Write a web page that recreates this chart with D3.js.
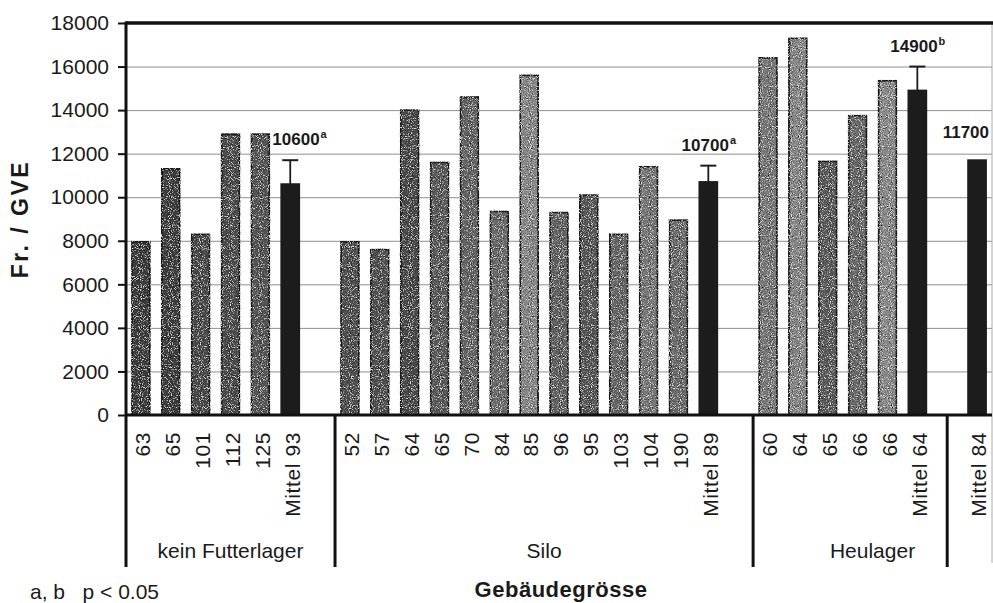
<!DOCTYPE html>
<html>
<head>
<meta charset="utf-8">
<script src="https://cdn.jsdelivr.net/npm/d3@7"></script>
<style>
  body { margin: 0; background: #fff; }
  #chart { width: 993px; height: 603px; }
  text { font-family: "Liberation Sans", Arial, sans-serif; fill: #1a1a1a; }
</style>
</head>
<body>
<div id="chart"></div>
<script>
// Fr. / GVE per farm
const groupNames = ["kein Futterlager", "Silo", "Heulager", ""];

const keinLabels = ["63", "65", "101", "112", "125", "Mittel 93"];
const keinValues = [7950, 11300, 8300, 12900, 12900, 10600];

const siloLabels = ["52", "57", "64", "65", "70", "84", "85", "96", "95", "103", "104", "190", "Mittel 89"];
const siloValues = [7950, 7600, 14000, 11600, 14600, 9350, 15600, 9300, 10100, 8300, 11400, 8950, 10700];

const heuLabels = ["60", "64", "65", "66", "66", "Mittel 64"];
const heuValues = [16400, 17300, 11650, 13750, 15350, 14900];

const totalLabels = ["Mittel 84"];
const totalValues = [11700];

const yTicks = [0, 2000, 4000, 6000, 8000, 10000, 12000, 14000, 16000, 18000];

// upper end of the error bars on the group means
const errLabels = ["Mittel 93", "Mittel 89", "Mittel 64"];
const errUpper = [11700, 11450, 16000];

// labels written above the means
const annoFor = ["Mittel 93", "Mittel 89", "Mittel 64", "Mittel 84"];
const annoText = ["10600", "10700", "14900", "11700"];
const annoSup = ["a", "a", "b", ""];

// grey tone of the stippled bars (style only)
const shades = [
  ["#3a3a3a", "#3e3e3e", "#484848", "#4c4c4c", "#555"],
  ["#505050", "#505050", "#4a4a4a", "#5a5a5a", "#646464", "#6a6a6a", "#888", "#626262", "#565656", "#666", "#787878", "#6c6c6c"],
  ["#787878", "#868686", "#5a5a5a", "#686868", "#8a8a8a"],
];

class GroupedBarChart {
  constructor(el) {
    this.el = el;
    this.initChart();
  }
  initChart() {
    const that = this;
    const margin = { left: 126, right: 1, top: 23, bottom: 188 };
    d3.select(`#${this.el} svg`).remove();

    const width = 993;
    const height = 603;
    that.margin = margin;
    that.innerWidth = width - margin.left - margin.right;
    that.innerHeight = height - margin.top - margin.bottom;

    that.svg = d3
      .select(`#${this.el}`)
      .append("svg")
      .attr("width", width)
      .attr("height", height);

    const defs = that.svg.append("defs");
    const f = defs.append("filter").attr("id", "grain");
    f.append("feTurbulence")
      .attr("type", "fractalNoise")
      .attr("baseFrequency", 1.1)
      .attr("numOctaves", 1)
      .attr("seed", 4)
      .attr("result", "t");
    f.append("feColorMatrix")
      .attr("in", "t")
      .attr("type", "matrix")
      .attr("values", "0 0 0 0 0  0 0 0 0 0  0 0 0 0 0  4 0 0 0 -2.1")
      .attr("result", "dark");
    f.append("feColorMatrix")
      .attr("in", "t")
      .attr("type", "matrix")
      .attr("values", "0 0 0 0 1  0 0 0 0 1  0 0 0 0 1  -4 0 0 0 1.8")
      .attr("result", "light");
    const merge = f.append("feMerge").attr("result", "m");
    merge.append("feMergeNode").attr("in", "SourceGraphic");
    merge.append("feMergeNode").attr("in", "dark");
    merge.append("feMergeNode").attr("in", "light");
    f.append("feComposite").attr("in", "m").attr("in2", "SourceGraphic").attr("operator", "in");

    that.mainGroup = that.svg
      .append("g")
      .attr("class", "mainGroup")
      .attr("transform", `translate(${margin.left},${margin.top})`);

    that.xScale = d3
      .scaleBand()
      .range([0, that.innerWidth])
      .paddingInner(0.4)
      .paddingOuter(0.2);
    that.yScale = d3.scaleLinear().domain([0, 18000]).range([that.innerHeight, 0]);
  }
  wrangleData() {
    const groups = [
      [keinLabels, keinValues],
      [siloLabels, siloValues],
      [heuLabels, heuValues],
      [totalLabels, totalValues],
    ];
    const slots = [];
    const groupInfo = [];
    groups.forEach(([labels, values], g) => {
      const first = slots.length;
      labels.forEach((lab, i) => {
        slots.push({
          key: `${g}-${i}`,
          group: g,
          label: lab,
          value: values[i],
          mean: lab.startsWith("Mittel"),
          shade: shades[g] ? shades[g][i] : null,
        });
      });
      // empty slot between groups
      let gap = null;
      if (g < groups.length - 1) {
        gap = `${g}-gap`;
        slots.push({ key: gap, group: g, label: "", value: null });
      }
      groupInfo.push({ name: groupNames[g], firstKey: slots[first].key, gapKey: gap });
    });
    this.updateChart(slots, groupInfo);
  }
  updateChart(slots, groupInfo) {
    const that = this;
    const x = that.xScale.domain(slots.map((d) => d.key));
    const y = that.yScale;
    const H = that.innerHeight;
    const W = that.innerWidth;
    const bw = x.bandwidth();
    const step = x.step();
    const lowExt = 152;
    const g = that.mainGroup;

    // gridlines
    const grid = g
      .append("g")
      .attr("class", "grid")
      .call(d3.axisLeft(y).tickValues(yTicks.slice(1, -1)).tickSize(-W).tickFormat(""));
    grid.select(".domain").remove();
    grid.selectAll("line").attr("stroke", "#8f8f8f").attr("stroke-width", 1);

    // right frame edge
    g.append("line")
      .attr("x1", W).attr("x2", W)
      .attr("y1", 0).attr("y2", H + lowExt - 4)
      .attr("stroke", "#aaa").attr("stroke-width", 1);

    const bars = slots.filter((d) => d.value != null);

    g.selectAll("rect.bar")
      .data(bars)
      .join("rect")
      .attr("class", "bar")
      .attr("x", (d) => x(d.key))
      .attr("y", (d) => y(d.value))
      .attr("width", bw)
      .attr("height", (d) => H - y(d.value))
      .attr("fill", (d) => (d.mean ? "#1c1c1c" : d.shade))
      .attr("stroke", (d) => (d.mean ? "#1c1c1c" : "#1e1e1e"))
      .attr("stroke-width", 1.8)
      .attr("filter", (d) => (d.mean ? null : "url(#grain)"));

    // error bars
    const errData = errLabels.map((lab, i) => {
      const b = bars.find((d) => d.label === lab);
      return { b, hi: errUpper[i] };
    });
    const eg = g.selectAll("g.err").data(errData).join("g").attr("class", "err");
    eg.append("line")
      .attr("x1", (d) => x(d.b.key) + bw / 2)
      .attr("x2", (d) => x(d.b.key) + bw / 2)
      .attr("y1", (d) => y(d.b.value))
      .attr("y2", (d) => y(d.hi))
      .attr("stroke", "#1c1c1c").attr("stroke-width", 1.8);
    eg.append("line")
      .attr("x1", (d) => x(d.b.key) + bw / 2 - 8)
      .attr("x2", (d) => x(d.b.key) + bw / 2 + 8)
      .attr("y1", (d) => y(d.hi))
      .attr("y2", (d) => y(d.hi))
      .attr("stroke", "#1c1c1c").attr("stroke-width", 2);

    // frame lines
    g.append("line")
      .attr("x1", 0).attr("x2", W + 1).attr("y1", 0).attr("y2", 0)
      .attr("stroke", "#111").attr("stroke-width", 3.5);
    g.append("line")
      .attr("x1", 0).attr("x2", W).attr("y1", H).attr("y2", H)
      .attr("stroke", "#111").attr("stroke-width", 3);
    g.append("line")
      .attr("x1", 0).attr("x2", 0).attr("y1", -1.5).attr("y2", H + lowExt)
      .attr("stroke", "#111").attr("stroke-width", 3);

    // y axis
    const yAxis = g
      .append("g")
      .attr("class", "y-axis")
      .call(d3.axisLeft(y).tickValues(yTicks).tickSize(8).tickPadding(9).tickFormat(d3.format("d")));
    yAxis.select(".domain").remove();
    yAxis.selectAll("line").attr("stroke", "#111").attr("stroke-width", 2);
    yAxis.selectAll("text").attr("font-size", "21px").attr("fill", "#1a1a1a")
      .attr("font-family", '"Liberation Sans", Arial, sans-serif');

    // category labels, rotated
    g.selectAll("text.cat")
      .data(bars)
      .join("text")
      .attr("class", "cat")
      .attr("transform", (d) => `translate(${x(d.key) + bw / 2 + 2},${H + 17}) rotate(-90)`)
      .attr("text-anchor", "end")
      .attr("dy", "0.35em")
      .attr("font-size", "21px")
      .attr("letter-spacing", "0.6px")
      .text((d) => d.label);

    // group separators and group names
    const sepX = groupInfo.map((gi, i) => {
      if (i === 0) return 0;
      const prevGap = groupInfo[i - 1].gapKey;
      // the last (unnamed) group is split at the middle of the gap
      if (!gi.name) return x(prevGap) + bw / 2;
      return x(gi.firstKey) - (step - bw) / 2;
    });
    g.selectAll("line.sep")
      .data(sepX.slice(1))
      .join("line")
      .attr("class", "sep")
      .attr("x1", (d) => d).attr("x2", (d) => d)
      .attr("y1", H).attr("y2", H + lowExt)
      .attr("stroke", "#111").attr("stroke-width", 3);

    const named = groupInfo.map((gi, i) => ({ name: gi.name, start: sepX[i] }))
      .filter((d) => d.name);
    named.forEach((d, i) => {
      d.end = i < named.length - 1 ? named[i + 1].start : W;
    });
    g.selectAll("text.grp")
      .data(named)
      .join("text")
      .attr("class", "grp")
      .attr("x", (d) => (d.start + d.end) / 2)
      .attr("y", H + 143)
      .attr("text-anchor", "middle")
      .attr("font-size", "21px")
      .text((d) => d.name);

    // mean annotations
    annoFor.forEach((lab, i) => {
      const b = bars.find((d) => d.label === lab);
      const e = errData.find((d) => d.b === b);
      const base = e ? y(e.hi) - 15 : y(b.value) - 22;
      const t = g.append("text")
        .attr("class", "anno")
        .attr("y", base)
        .attr("font-size", "17px")
        .attr("font-weight", "bold");
      t.append("tspan").text(annoText[i]);
      if (annoSup[i]) {
        t.append("tspan").attr("font-size", "11px").attr("dy", -7).attr("dx", 1).text(annoSup[i]);
      }
      const w = t.node().getComputedTextLength();
      let left = x(b.key) + bw / 2 - w / 2;
      const idx = bars.indexOf(b);
      const prev = bars[idx - 1];
      if (prev && prev.group === b.group && y(prev.value) < base && left < x(prev.key) + bw + 3) {
        left = x(prev.key) + bw + 3;
      }
      if (left + w > W - 3) left = W - 3 - w;
      t.attr("x", left);
    });

    // axis titles and note
    that.svg.append("text")
      .attr("transform", `translate(28,219) rotate(-90)`)
      .attr("text-anchor", "middle")
      .attr("font-size", "23px")
      .attr("font-weight", "bold")
      .attr("letter-spacing", "2.5px")
      .text("Fr. / GVE");
    that.svg.append("text")
      .attr("x", 561).attr("y", 597)
      .attr("text-anchor", "middle")
      .attr("font-size", "22px")
      .attr("font-weight", "bold")
      .attr("letter-spacing", "0.5px")
      .text("Gebäudegrösse");
    that.svg.append("text")
      .attr("x", 30).attr("y", 599)
      .attr("font-size", "21px")
      .style("white-space", "pre")
      .text("a, b   p < 0.05");
  }
}

const chart = new GroupedBarChart("chart");
chart.wrangleData();
</script>
</body>
</html>
